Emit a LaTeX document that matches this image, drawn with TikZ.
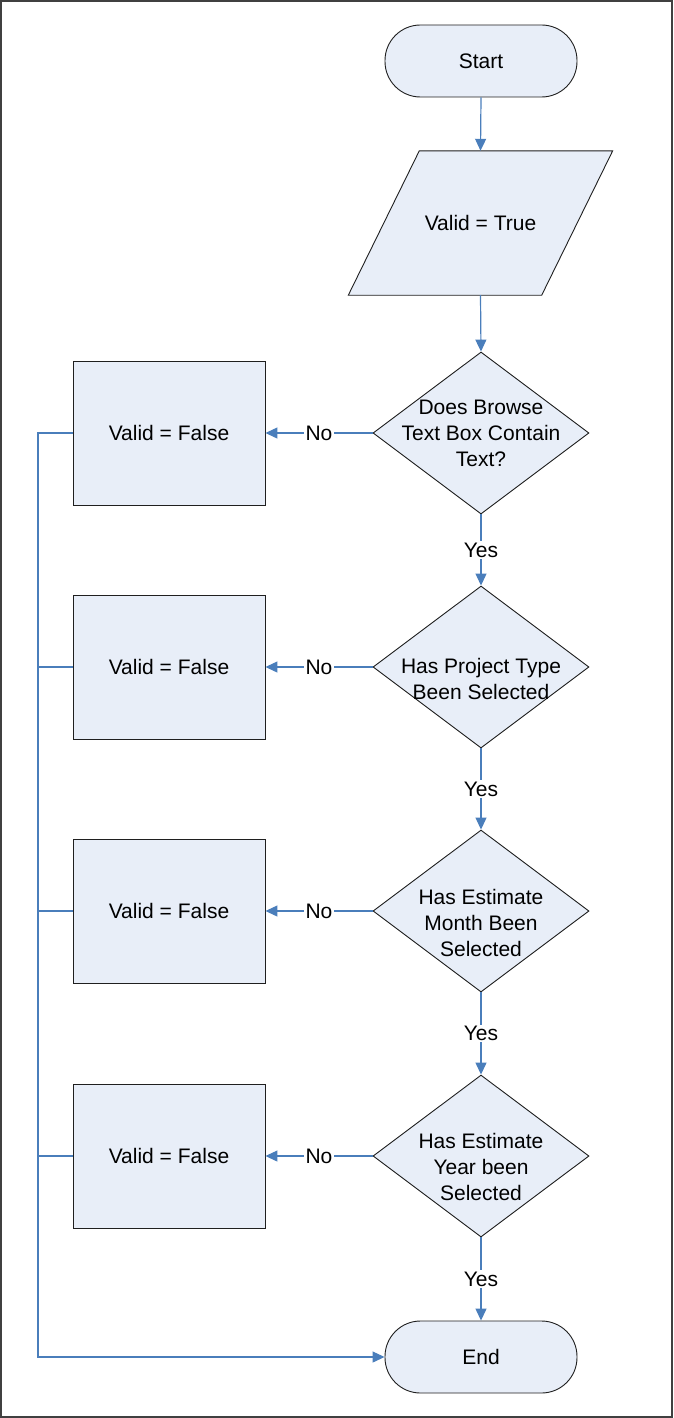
\documentclass[tikz,border=0pt]{standalone}
\usepackage{fontspec}
\setmainfont{Liberation Sans}
\usetikzlibrary{arrows.meta,shapes.geometric,backgrounds}
\definecolor{shapefill}{HTML}{E8EEF8}
\definecolor{flowblue}{HTML}{4A7EBB}
\definecolor{framegray}{HTML}{404040}

\begin{document}
\begin{tikzpicture}[x=1pt,y=-1pt,
  every node/.style={font=\fontsize{21}{26}\selectfont, inner sep=0pt},
  outline/.style={draw=black!88, fill=shapefill, line width=0.9pt},
  terminal/.style={outline, minimum width=192pt, minimum height=72pt, rounded corners=35.5pt},
  process/.style={outline, minimum width=192pt, minimum height=144pt},
  iobox/.style={minimum width=264pt, minimum height=144pt},
  decision/.style={outline, shape=diamond, minimum width=216pt, minimum height=162pt},
  caption/.style={align=center},
  flow/.style={draw=flowblue, line width=1.2pt, -{Triangle[length=12pt,width=11pt]}},
  link/.style={draw=flowblue, line width=1.2pt},
  answer/.style={fill=white, inner sep=1.5pt}]

  \useasboundingbox (0,0) rectangle (673,1418);
  \draw[framegray, line width=1.6pt] (1,1) rectangle (672,1417);

  % main column
  \node[terminal] (start) at (481,61) {Start};
  \node[iobox] (init) at (480.5,223) {Valid = True};
  \begin{scope}[on background layer]
    \draw[outline] ([xshift=71]init.north west) -- (init.north east)
      -- ([xshift=-71]init.south east) -- (init.south west) -- cycle;
  \end{scope}

  \node[decision] (d1) at (481,433) {};
  \node[caption] (t1) at (481,433) {Does Browse\\Text Box Contain\\Text?};
  \node[decision] (d2) at (481,667) {};
  \node[caption] (t2) at (481,679) {Has Project Type\\Been Selected};
  \node[decision] (d3) at (481,911) {};
  \node[caption] (t3) at (481,923) {Has Estimate\\Month Been\\Selected};
  \node[decision] (d4) at (481,1156) {};
  \node[caption] (t4) at (481,1167) {Has Estimate\\Year been\\Selected};

  \node[terminal] (end) at (481,1357) {End};

  % failure boxes
  \node[process] (f1) at (169,433) {Valid = False};
  \node[process] (f2) at (169,667) {Valid = False};
  \node[process] (f3) at (169,911) {Valid = False};
  \node[process] (f4) at (169,1156) {Valid = False};

  % main flow
  \draw[flow] (start.south) -- (init.north);
  \draw[flow] (init.south) -- (d1.north);
  \draw[flow] (d1.south) -- node[answer] (y1) {Yes} (d2.north);
  \draw[flow] (d2.south) -- node[answer] (y2) {Yes} (d3.north);
  \draw[flow] (d3.south) -- node[answer] (y3) {Yes} (d4.north);
  \draw[flow] (d4.south) -- node[answer] (y4) {Yes} (end.north);

  % "No" branches
  \draw[flow] (d1.west) -- node[answer] (n1) {No} (f1.east);
  \draw[flow] (d2.west) -- node[answer] (n2) {No} (f2.east);
  \draw[flow] (d3.west) -- node[answer] (n3) {No} (f3.east);
  \draw[flow] (d4.west) -- node[answer] (n4) {No} (f4.east);

  % return line to End
  \coordinate (c1) at (38,433);
  \coordinate (c5) at (38,1357);
  \draw[flow] (f1.west) -- (c1) -- (c5) -- (end.west);
  \draw[link] (f2.west) -- (f2.west -| c1);
  \draw[link] (f3.west) -- (f3.west -| c1);
  \draw[link] (f4.west) -- (f4.west -| c1);
\end{tikzpicture}
\end{document}
